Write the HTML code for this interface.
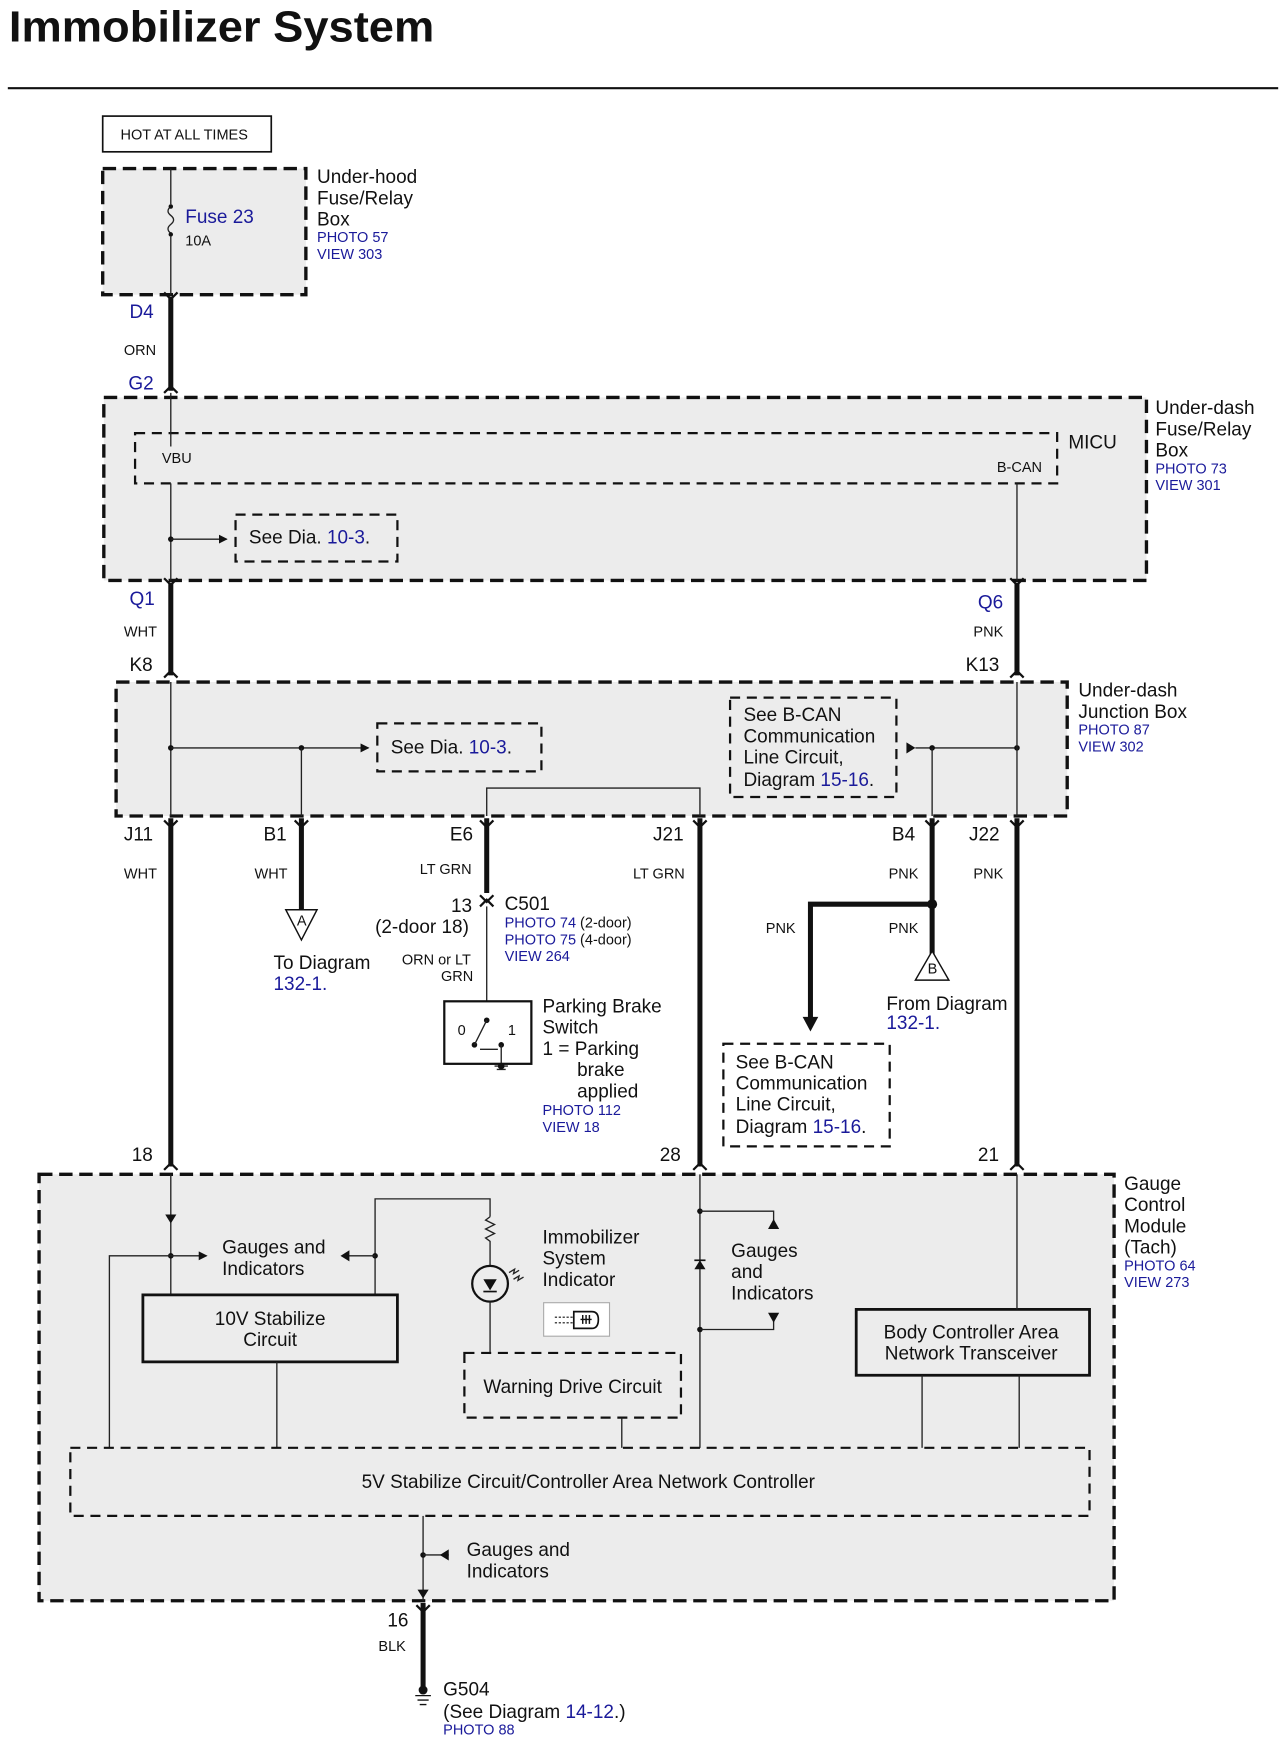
<!DOCTYPE html>
<html><head><meta charset="utf-8"><style>
html,body{margin:0;padding:0;background:#fff;}
svg{display:block;}
text{font-family:"Liberation Sans",Arial,sans-serif;fill:#111;}
.b{fill:#1a1a9a;}
.s13{font-size:13px;}
.s17{font-size:17px;}
.box{fill:#ececec;stroke:#111;stroke-width:3;stroke-dasharray:12 6;}
.ibox{fill:none;stroke:#111;stroke-width:2;stroke-dasharray:9 6;}
.thin{stroke:#222;stroke-width:1.2;fill:none;}
.w{stroke:#111;stroke-width:4.5;fill:none;}
</style></head><body>
<svg width="1286" height="1751" viewBox="0 0 1152 1568.6" preserveAspectRatio="none" xmlns="http://www.w3.org/2000/svg">
<defs>
<marker id="ar" markerWidth="8" markerHeight="8" refX="7" refY="4" orient="auto" markerUnits="userSpaceOnUse"><path d="M0,0 L8,4 L0,8 z" fill="#111"/></marker>
</defs>
<text x="8" y="37" style="font-size:39px;font-weight:bold" textLength="381" lengthAdjust="spacingAndGlyphs">Immobilizer System</text>
<line x1="7" y1="79" x2="1145" y2="79" stroke="#111" stroke-width="2"/>

<rect x="92" y="104" width="151" height="32" fill="#fff" stroke="#111" stroke-width="1.5"/>
<text x="108" y="125" class="s13">HOT AT ALL TIMES</text>
<rect x="92" y="151" width="182" height="113" class="box"/>
<path d="M153 151 V183 M153 212 V264" class="thin"/>
<path d="M153 185 q-5 4 0 8 q5 4 0 8 q-5 4 0 8" class="thin"/>
<circle cx="153" cy="185" r="2" fill="#111"/><circle cx="153" cy="210" r="2" fill="#111"/>
<text x="166" y="200" class="s17 b">Fuse 23</text>
<text x="166" y="220" class="s13">10A</text>
<text x="284" y="164" class="s17">Under-hood</text><text x="284" y="183" class="s17">Fuse/Relay</text><text x="284" y="202" class="s17">Box</text>
<text x="284" y="217" class="s13 b">PHOTO 57</text><text x="284" y="232" class="s13 b">VIEW 303</text>

<line x1="153" y1="266" x2="153" y2="350" class="w"/>
<text x="116" y="285" class="s17 b">D4</text><text x="111" y="318" class="s13">ORN</text><text x="115" y="349" class="s17 b">G2</text>

<rect x="93" y="356" width="934" height="164" class="box"/>
<rect x="121" y="388" width="826" height="45" class="ibox"/>
<text x="957" y="402" class="s17">MICU</text>
<text x="145" y="415" class="s13">VBU</text><text x="893" y="423" class="s13">B-CAN</text>
<text x="1035" y="371" class="s17">Under-dash</text><text x="1035" y="390" class="s17">Fuse/Relay</text><text x="1035" y="409" class="s17">Box</text>
<text x="1035" y="424" class="s13 b">PHOTO 73</text><text x="1035" y="439" class="s13 b">VIEW 301</text>
<path d="M153 352 V400 M153 433 V520" class="thin"/>
<circle cx="153" cy="483" r="2.5" fill="#111"/>
<line x1="153" y1="483" x2="203" y2="483" class="thin" marker-end="url(#ar)"/>
<rect x="211" y="461" width="145" height="42" class="ibox" stroke-width="1.3"/>
<text x="223" y="487" class="s17">See  Dia.  <tspan class="b">10-3</tspan>.</text>
<line x1="911" y1="433" x2="911" y2="520" class="thin"/>

<line x1="153" y1="522" x2="153" y2="605" class="w"/>
<line x1="911" y1="522" x2="911" y2="605" class="w"/>
<text x="116" y="542" class="s17 b">Q1</text><text x="111" y="570" class="s13">WHT</text><text x="116" y="601" class="s17">K8</text>
<text x="876" y="545" class="s17 b">Q6</text><text x="872" y="570" class="s13">PNK</text><text x="865" y="601" class="s17">K13</text>

<rect x="104" y="611" width="852" height="120" class="box"/>
<text x="966" y="624" class="s17">Under-dash</text><text x="966" y="643" class="s17">Junction Box</text>
<text x="966" y="658" class="s13 b">PHOTO 87</text><text x="966" y="673" class="s13 b">VIEW 302</text>
<line x1="153" y1="611" x2="153" y2="731" class="thin"/>
<circle cx="153" cy="670" r="2.5" fill="#111"/>
<line x1="153" y1="670" x2="330" y2="670" class="thin" marker-end="url(#ar)"/>
<circle cx="270" cy="670" r="2.5" fill="#111"/>
<line x1="270" y1="670" x2="270" y2="731" class="thin"/>
<rect x="338" y="648" width="147" height="43" class="ibox" stroke-width="1.3"/>
<text x="350" y="675" class="s17">See  Dia.  <tspan class="b">10-3</tspan>.</text>
<rect x="654" y="625" width="149" height="89" class="ibox" stroke-width="1.3"/>
<text x="666" y="646" class="s17">See B-CAN</text><text x="666" y="665" class="s17">Communication</text><text x="666" y="684" class="s17">Line Circuit,</text><text x="666" y="704" class="s17">Diagram <tspan class="b">15-16</tspan>.</text>
<path d="M812 665 L820 670 L812 675 z" fill="#111"/>
<line x1="820" y1="670" x2="911" y2="670" class="thin"/>
<circle cx="835" cy="670" r="2.5" fill="#111"/><circle cx="911" cy="670" r="2.5" fill="#111"/>
<line x1="835" y1="670" x2="835" y2="731" class="thin"/>
<line x1="911" y1="611" x2="911" y2="731" class="thin"/>
<path d="M436 731 V706 H627 V731" class="thin"/>

<line x1="153" y1="733" x2="153" y2="1045" class="w"/>
<text x="111" y="753" class="s17">J11</text><text x="111" y="787" class="s13">WHT</text><text x="118" y="1040" class="s17">18</text>
<line x1="270" y1="733" x2="270" y2="815" class="w"/>
<path d="M256 815 H284 L270 842 z" fill="#fff" stroke="#111" stroke-width="1.3"/>
<text x="266" y="829" class="s13">A</text>
<text x="236" y="753" class="s17">B1</text><text x="228" y="787" class="s13">WHT</text>
<text x="245" y="868" class="s17">To Diagram</text><text x="245" y="887" class="s17 b">132-1.</text>
<line x1="436" y1="733" x2="436" y2="800" class="w"/>
<path d="M430 802 L436 808 L442 802 M430 812 L436 806 L442 812" fill="none" stroke="#111" stroke-width="2"/>
<line x1="436" y1="812" x2="436" y2="910" class="thin"/>
<text x="403" y="753" class="s17">E6</text><text x="376" y="783" class="s13">LT GRN</text>
<text x="404" y="817" class="s17">13</text><text x="336" y="836" class="s17">(2-door 18)</text>
<text x="452" y="815" class="s17">C501</text>
<text x="452" y="831" class="s13"><tspan class="b">PHOTO 74</tspan> (2-door)</text>
<text x="452" y="846" class="s13"><tspan class="b">PHOTO 75</tspan> (4-door)</text>
<text x="452" y="861" class="s13 b">VIEW 264</text>
<text x="360" y="864" class="s13">ORN or LT</text><text x="395" y="879" class="s13">GRN</text>
<rect x="398" y="897" width="78" height="56" fill="#fff" stroke="#111" stroke-width="2"/>
<text x="410" y="927" class="s13">0</text><text x="455" y="927" class="s13">1</text>
<circle cx="436" cy="914" r="2.5" fill="#111"/><circle cx="425" cy="936" r="2.5" fill="#111"/><circle cx="449" cy="936" r="2.5" fill="#111"/>
<path d="M436 914 L425 936 M430 940 L446 940 M449 936 V955 M443 955 H455 M445 958 H453" class="thin"/>
<circle cx="449" cy="955" r="3" fill="#111"/>
<text x="486" y="907" class="s17">Parking Brake</text><text x="486" y="926" class="s17">Switch</text><text x="486" y="945" class="s17">1 = Parking</text>
<text x="517" y="964" class="s17">brake</text><text x="517" y="983" class="s17">applied</text>
<text x="486" y="999" class="s13 b">PHOTO 112</text><text x="486" y="1014" class="s13 b">VIEW 18</text>

<line x1="627" y1="733" x2="627" y2="1045" class="w"/>
<text x="585" y="753" class="s17">J21</text><text x="567" y="787" class="s13">LT GRN</text><text x="591" y="1040" class="s17">28</text>

<line x1="835" y1="733" x2="835" y2="855" class="w"/>
<circle cx="835" cy="810" r="4.5" fill="#111"/>
<path d="M835 810 H726 V912" class="w"/>
<path d="M719 911 H733 L726 924 z" fill="#111"/>
<path d="M820 878 H850 L835 852 z" fill="#fff" stroke="#111" stroke-width="1.3"/>
<text x="831" y="872" class="s13">B</text>
<text x="799" y="753" class="s17">B4</text><text x="796" y="787" class="s13">PNK</text>
<text x="686" y="836" class="s13">PNK</text><text x="796" y="836" class="s13">PNK</text>
<text x="794" y="905" class="s17">From Diagram</text><text x="794" y="922" class="s17 b">132-1.</text>
<rect x="648" y="935" width="149" height="92" class="ibox" stroke-width="1.3"/>
<text x="659" y="957" class="s17">See B-CAN</text><text x="659" y="976" class="s17">Communication</text><text x="659" y="995" class="s17">Line Circuit,</text><text x="659" y="1015" class="s17">Diagram <tspan class="b">15-16</tspan>.</text>

<line x1="911" y1="733" x2="911" y2="1045" class="w"/>
<text x="868" y="753" class="s17">J22</text><text x="872" y="787" class="s13">PNK</text><text x="876" y="1040" class="s17">21</text>

<g fill="none" stroke="#111" stroke-width="2">
<path d="M147 262 L153 268 L159 262 M147 352 L153 346 L159 352"/>
<path d="M147 518 L153 524 L159 518 M905 518 L911 524 L917 518"/>
<path d="M147 607 L153 601 L159 607 M905 607 L911 601 L917 607"/>
<path d="M147 735 L153 741 L159 735 M264 735 L270 741 L276 735 M430 735 L436 741 L442 735 M621 735 L627 741 L633 735 M829 735 L835 741 L841 735 M905 735 L911 741 L917 735"/>
<path d="M147 1048 L153 1042 L159 1048 M621 1048 L627 1042 L633 1048 M905 1048 L911 1042 L917 1048"/>
<path d="M373 1438 L379 1444 L385 1438"/>
</g>

<rect x="35" y="1052" width="963" height="382" class="box"/>
<text x="1007" y="1066" class="s17">Gauge</text><text x="1007" y="1085" class="s17">Control</text><text x="1007" y="1104" class="s17">Module</text><text x="1007" y="1123" class="s17">(Tach)</text>
<text x="1007" y="1138" class="s13 b">PHOTO 64</text><text x="1007" y="1153" class="s13 b">VIEW 273</text>
<line x1="153" y1="1052" x2="153" y2="1160" class="thin"/>
<path d="M148 1088 H158 L153 1096 z" fill="#111"/>
<circle cx="153" cy="1125" r="2.5" fill="#111"/>
<line x1="153" y1="1125" x2="185" y2="1125" class="thin" marker-end="url(#ar)"/>
<path d="M153 1125 H98 V1297" class="thin"/>
<text x="199" y="1123" class="s17">Gauges and</text><text x="199" y="1142" class="s17">Indicators</text>
<path d="M336 1160 V1074 H439 V1090" class="thin"/>
<circle cx="336" cy="1125" r="2.5" fill="#111"/>
<path d="M336 1125 H312" class="thin"/><path d="M313 1120 L305 1125 L313 1130 z" fill="#111"/>
<path d="M439 1090 l-4 3 l8 4 l-8 4 l8 4 l-8 4 l4 3 V1134" class="thin"/>
<circle cx="439" cy="1150" r="16" fill="none" stroke="#111" stroke-width="2"/>
<path d="M433 1146 H445 L439 1156 z" fill="#111"/><path d="M433 1157 H445" stroke="#111" stroke-width="1.5"/>
<path d="M439 1166 V1213" class="thin"/>
<path d="M456 1140 l5 -3 l-1 4 l5 -3 M460 1146 l5 -3 l-1 4 l5 -3" class="thin"/>
<text x="486" y="1114" class="s17">Immobilizer</text><text x="486" y="1133" class="s17">System</text><text x="486" y="1152" class="s17">Indicator</text>
<rect x="487" y="1167" width="59" height="30" fill="#fff" stroke="#aaa" stroke-width="1"/>
<path d="M497 1180 H514 M497 1185 H514" stroke="#111" stroke-width="1" stroke-dasharray="2 1.5"/>
<path d="M514 1175 H530 Q536 1175 536 1182 Q536 1190 530 1190 H514 Z" fill="none" stroke="#111" stroke-width="1.5"/>
<path d="M520 1182 H530 M522 1178 V1186 M525 1178 V1186 M528 1178 V1186" stroke="#111" stroke-width="1.3"/>
<rect x="128" y="1160" width="228" height="60" fill="none" stroke="#111" stroke-width="2.5"/>
<text x="242" y="1187" class="s17" text-anchor="middle">10V Stabilize</text><text x="242" y="1206" class="s17" text-anchor="middle">Circuit</text>
<line x1="248" y1="1220" x2="248" y2="1297" class="thin"/>
<rect x="416" y="1212" width="194" height="58" class="ibox" stroke-width="2.5"/>
<text x="513" y="1248" class="s17" text-anchor="middle">Warning Drive Circuit</text>
<line x1="557" y1="1270" x2="557" y2="1297" class="thin"/>
<line x1="627" y1="1052" x2="627" y2="1297" class="thin"/>
<path d="M622 1137 H632 L627 1129 z" fill="#111"/><path d="M622 1129 H632" stroke="#111" stroke-width="1.5"/>
<circle cx="627" cy="1085" r="2.5" fill="#111"/><circle cx="627" cy="1191" r="2.5" fill="#111"/>
<path d="M627 1085 H693 V1098 M627 1191 H693 V1180" class="thin"/>
<path d="M688 1101 H698 L693 1092 z M688 1176 H698 L693 1185 z" fill="#111"/>
<text x="655" y="1126" class="s17">Gauges</text><text x="655" y="1145" class="s17">and</text><text x="655" y="1164" class="s17">Indicators</text>
<rect x="767" y="1173" width="209" height="59" fill="none" stroke="#111" stroke-width="2.5"/>
<text x="870" y="1199" class="s17" text-anchor="middle">Body Controller Area</text><text x="870" y="1218" class="s17" text-anchor="middle">Network Transceiver</text>
<line x1="826" y1="1232" x2="826" y2="1297" class="thin"/>
<path d="M911 1052 V1173 M913 1232 V1297" class="thin"/>
<rect x="63" y="1297" width="913" height="61" class="ibox" stroke-width="2.5"/>
<text x="527" y="1333" class="s17" text-anchor="middle">5V Stabilize Circuit/Controller Area Network Controller</text>
<line x1="379" y1="1358" x2="379" y2="1434" class="thin"/>
<circle cx="379" cy="1393" r="2.5" fill="#111"/>
<path d="M379 1393 H402" class="thin"/><path d="M402 1388 L394 1393 L402 1398 z" fill="#111"/>
<path d="M374 1424 H384 L379 1432 z" fill="#111"/>
<text x="418" y="1394" class="s17">Gauges and</text><text x="418" y="1413" class="s17">Indicators</text>

<line x1="379" y1="1436" x2="379" y2="1512" class="w"/>
<circle cx="379" cy="1514" r="4" fill="#111"/>
<path d="M372 1519 H386 M374 1523 H384 M376 1527 H382" stroke="#111" stroke-width="1.2"/>
<text x="347" y="1457" class="s17">16</text><text x="339" y="1479" class="s13">BLK</text>
<text x="397" y="1519" class="s17">G504</text>
<text x="397" y="1539" class="s17">(See Diagram <tspan class="b">14-12</tspan>.)</text>
<text x="397" y="1554" class="s13 b">PHOTO 88</text>
</svg>
</body></html>
